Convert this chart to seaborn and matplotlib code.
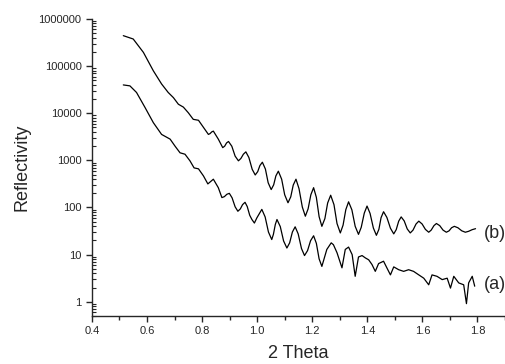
import numpy as np
import pandas as pd
import seaborn as sns
import matplotlib.pyplot as plt
from matplotlib.ticker import FixedLocator, LogLocator, MultipleLocator, FuncFormatter

# curve (b), values as log10(reflectivity)
theta_b = [0.514, 0.55, 0.587, 0.623, 0.653, 0.677, 0.696, 0.714, 0.732, 0.750,
           0.768, 0.787, 0.805, 0.823, 0.829, 0.835, 0.841, 0.859, 0.875, 0.882,
           0.889, 0.896, 0.908, 0.920, 0.932, 0.941, 0.950, 0.959, 0.970, 0.982,
           0.993, 1.002, 1.010, 1.019, 1.030, 1.040, 1.051, 1.060, 1.068, 1.077,
           1.089, 1.100, 1.112, 1.122, 1.131, 1.141, 1.152, 1.164, 1.175, 1.185,
           1.195, 1.205, 1.215, 1.225, 1.235, 1.246, 1.256, 1.267, 1.279, 1.290,
           1.302, 1.312, 1.322, 1.332, 1.344, 1.356, 1.368, 1.378, 1.389, 1.399,
           1.410, 1.422, 1.433, 1.442, 1.450, 1.459, 1.471, 1.484, 1.496, 1.505,
           1.514, 1.523, 1.534, 1.545, 1.556, 1.566, 1.577, 1.587, 1.599, 1.611,
           1.623, 1.632, 1.642, 1.651, 1.663, 1.675, 1.687, 1.697, 1.706, 1.716,
           1.729, 1.743, 1.756, 1.768, 1.781, 1.793]
logr_b = [5.645, 5.574, 5.29, 4.90, 4.62, 4.44, 4.33, 4.19, 4.13, 4.01,
          3.87, 3.85, 3.70, 3.55, 3.567, 3.603, 3.62, 3.45, 3.27, 3.30,
          3.37, 3.40, 3.30, 3.09, 2.99, 3.04, 3.13, 3.18, 3.06, 2.81,
          2.69, 2.76, 2.89, 2.96, 2.815, 2.525, 2.38, 2.48, 2.67, 2.77,
          2.60, 2.27, 2.10, 2.225, 2.475, 2.60, 2.40, 2.01, 1.815, 1.97,
          2.27, 2.42, 2.215, 1.805, 1.60, 1.765, 2.095, 2.26, 2.06, 1.66,
          1.46, 1.625, 1.955, 2.12, 1.95, 1.60, 1.43, 1.58, 1.88, 2.03,
          1.875, 1.565, 1.41, 1.535, 1.785, 1.91, 1.79, 1.56, 1.44, 1.53,
          1.71, 1.80, 1.715, 1.545, 1.46, 1.52, 1.65, 1.71, 1.65, 1.535,
          1.475, 1.52, 1.615, 1.66, 1.615, 1.52, 1.475, 1.505, 1.57, 1.60,
          1.57, 1.505, 1.475, 1.495, 1.53, 1.55]

# curve (a) - measured, noisier
theta_a = [0.514, 0.538, 0.562, 0.593, 0.623, 0.653, 0.684, 0.702, 0.72, 0.738,
           0.756, 0.771, 0.787, 0.805, 0.821, 0.841, 0.859, 0.872, 0.881, 0.890,
           0.899, 0.909, 0.920, 0.930, 0.939, 0.947, 0.956, 0.964, 0.973, 0.981,
           0.990, 0.999, 1.008, 1.017, 1.029, 1.041, 1.053, 1.059, 1.066, 1.072,
           1.084, 1.096, 1.108, 1.118, 1.128, 1.138, 1.149, 1.161, 1.172, 1.183,
           1.194, 1.205, 1.215, 1.225, 1.235, 1.253, 1.269, 1.277, 1.29, 1.308,
           1.32, 1.332, 1.345, 1.356, 1.368, 1.381, 1.393, 1.405, 1.417, 1.429,
           1.441, 1.459, 1.471, 1.484, 1.496, 1.514, 1.532, 1.550, 1.568, 1.587,
           1.605, 1.623, 1.635, 1.653, 1.672, 1.690, 1.702, 1.714, 1.732, 1.75,
           1.76, 1.768, 1.781, 1.790]
logr_a = [4.60, 4.58, 4.44, 4.12, 3.80, 3.55, 3.45, 3.30, 3.16, 3.13,
          2.99, 2.84, 2.82, 2.67, 2.50, 2.60, 2.42, 2.21, 2.23, 2.28,
          2.30, 2.205, 2.015, 1.92, 1.97, 2.06, 2.11, 2.02, 1.835, 1.745,
          1.67, 1.78, 1.87, 1.96, 1.80, 1.48, 1.32, 1.43, 1.64, 1.745,
          1.595, 1.29, 1.14, 1.25, 1.48, 1.59, 1.44, 1.13, 0.98, 1.085,
          1.295, 1.40, 1.24, 0.91, 0.75, 1.11, 1.25, 1.21, 1.04, 0.72,
          1.11, 1.16, 1.00, 0.54, 0.95, 0.98, 0.93, 0.89, 0.79, 0.645,
          0.81, 0.86, 0.72, 0.57, 0.74, 0.68, 0.645, 0.68, 0.645, 0.57,
          0.50, 0.36, 0.57, 0.54, 0.47, 0.50, 0.29, 0.54, 0.40, 0.36,
          -0.04, 0.40, 0.54, 0.33]

y_ticks = [1, 10, 100, 1000, 10000, 100000, 1000000]

sns.set_style("ticks")
plt.rcParams['font.family'] = ['Liberation Sans', 'DejaVu Sans']

df_a = pd.DataFrame({"theta": theta_a, "refl": np.power(10.0, logr_a)})
df_b = pd.DataFrame({"theta": theta_b, "refl": np.power(10.0, logr_b)})

fig = plt.figure(figsize=(5.05, 3.64), dpi=100)
ax = fig.add_axes([0.182, 0.132, 0.818, 0.816])

sns.lineplot(data=df_b, x="theta", y="refl", color="black", lw=0.9, ax=ax, sort=False)
sns.lineplot(data=df_a, x="theta", y="refl", color="black", lw=0.9, ax=ax, sort=False)

ax.set_yscale("log")
ax.set_xlim(0.4, 1.9)
ax.set_ylim(0.5, 1000000)
ax.yaxis.set_major_locator(FixedLocator(y_ticks))
ax.yaxis.set_major_formatter(FuncFormatter(lambda v, p: "%d" % round(v)))
ax.yaxis.set_minor_locator(LogLocator(base=10, subs=np.arange(2, 10)))
ax.xaxis.set_major_locator(MultipleLocator(0.2))
ax.xaxis.set_minor_locator(MultipleLocator(0.1))
ax.xaxis.set_major_formatter(FuncFormatter(lambda v, p: "%.1f" % v))

sns.despine(ax=ax)
for s in ["left", "bottom"]:
    ax.spines[s].set_linewidth(1.0)
ax.tick_params(axis="both", which="major", labelsize=8, length=4, width=1, direction="out")
ax.tick_params(axis="x", which="minor", length=3, width=1, direction="out")
ax.tick_params(axis="y", which="minor", length=3, width=0.8, direction="in")

ax.set_xlabel("2 Theta", fontsize=13, labelpad=6)
ax.set_ylabel("Reflectivity", fontsize=13, labelpad=6)

ax.text(1.825, 28, "(b)", fontsize=13, va="center")
ax.text(1.825, 2.3, "(a)", fontsize=13, va="center")

fig.savefig("out.png", dpi=100)
